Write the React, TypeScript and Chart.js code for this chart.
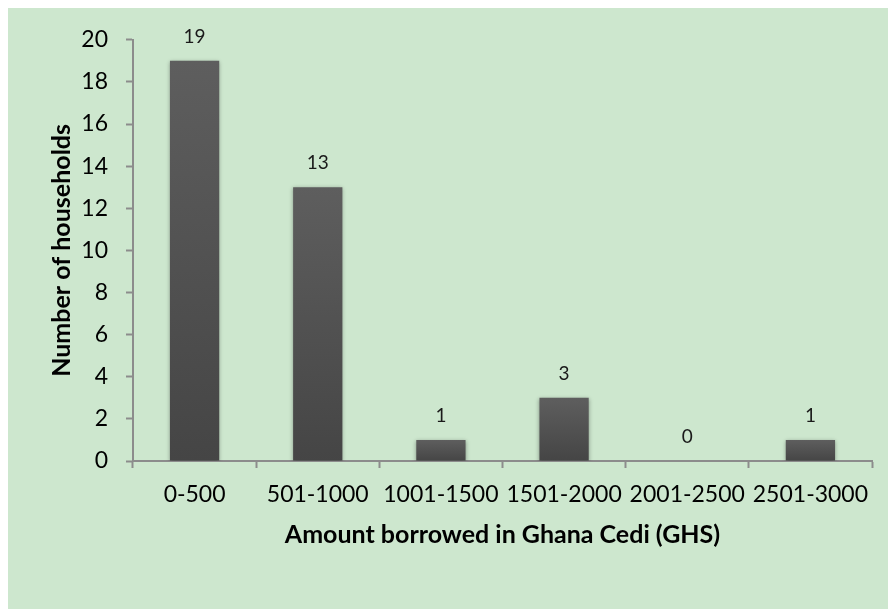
import React, { useEffect, useRef } from "react";
import { Chart, registerables } from "chart.js";

Chart.register(...registerables);

const categories = ["0-500", "501-1000", "1001-1500", "1501-2000", "2001-2500", "2501-3000"];
const households = [19, 13, 1, 3, 0, 1];
const yTicks = [0, 2, 4, 6, 8, 10, 12, 14, 16, 18, 20];
const xTitle = "Amount borrowed in Ghana Cedi (GHS)";
const yTitle = "Number of households";

const FONT = "Lato, 'Open Sans', sans-serif";
const AXIS = "#8c8c8c";

const valueLabels = {
  id: "valueLabels",
  beforeDatasetsDraw(chart: any) {
    const ctx = chart.ctx;
    ctx.save();
    ctx.shadowColor = "rgba(0,0,0,0.35)";
    ctx.shadowBlur = 4;
    ctx.shadowOffsetY = 1;
  },
  afterDatasetsDraw(chart: any) {
    const ctx = chart.ctx;
    ctx.restore();
    const meta = chart.getDatasetMeta(0);
    ctx.save();
    ctx.font = `19px ${FONT}`;
    ctx.fillStyle = "#1a1a1a";
    ctx.textAlign = "center";
    ctx.textBaseline = "middle";
    meta.data.forEach((bar: any, i: number) => {
      ctx.fillText(String(households[i]), bar.x, bar.y - 24);
    });
    ctx.restore();
  },
};

export default function App() {
  const ref = useRef<HTMLCanvasElement>(null);

  useEffect(() => {
    if (!ref.current) return;
    const chart = new Chart(ref.current, {
      type: "bar",
      data: {
        labels: categories,
        datasets: [
          {
            data: households,
            backgroundColor: (c: any) => {
              const ch = c.chart;
              const ys = ch.scales && ch.scales.y;
              if (!ys || c.raw === undefined) return "#555555";
              const top = ys.getPixelForValue(c.raw);
              const bottom = ys.getPixelForValue(0);
              if (!isFinite(top) || !isFinite(bottom) || bottom - top < 1) return "#555555";
              const g = ch.ctx.createLinearGradient(0, top, 0, bottom);
              g.addColorStop(0, "#5e5e5e");
              g.addColorStop(1, "#454545");
              return g;
            },
            borderWidth: 0,
            barPercentage: 0.4,
            categoryPercentage: 1,
          },
        ],
      },
      options: {
        responsive: false,
        animation: false,
        layout: { padding: { top: 30, right: 16, left: 0, bottom: 0 } },
        plugins: {
          legend: { display: false },
          tooltip: { enabled: false },
        },
        scales: {
          x: {
            afterFit: (s: any) => {
              s.height = 148;
            },
            grid: {
              display: true,
              drawOnChartArea: false,
              drawTicks: true,
              tickLength: 7,
              tickWidth: 2,
              color: AXIS,
              offset: true,
            },
            border: { display: true, color: AXIS, width: 2 },
            ticks: {
              color: "#000",
              padding: 13,
              maxRotation: 0,
              autoSkip: false,
              font: { family: FONT, size: 23 },
            },
            title: {
              display: true,
              text: xTitle,
              color: "#000",
              font: { family: FONT, size: 25, weight: "bold" },
              padding: { top: 0, bottom: 59 },
            },
          },
          y: {
            min: 0,
            max: 20,
            afterFit: (s: any) => {
              s.width = 125;
            },
            afterBuildTicks: (s: any) => {
              s.ticks = yTicks.map((v) => ({ value: v }));
            },
            grid: {
              display: true,
              drawOnChartArea: false,
              drawTicks: true,
              tickLength: 7,
              tickWidth: 2,
              color: AXIS,
            },
            border: { display: true, color: AXIS, width: 2 },
            ticks: {
              color: "#000",
              padding: 18,
              font: { family: FONT, size: 23 },
            },
            title: {
              display: true,
              text: yTitle,
              color: "#000",
              font: { family: FONT, size: 25, weight: "bold" },
              padding: { top: 39, bottom: 0 },
            },
          },
        },
      },
      plugins: [valueLabels],
    });
    return () => chart.destroy();
  }, []);

  return (
    <div
      style={{
        position: "fixed",
        left: 8,
        top: 8,
        width: 880,
        height: 601,
        background: "rgb(205,231,206)",
      }}
    >
      <canvas ref={ref} width={880} height={601} style={{ display: "block" }} />
    </div>
  );
}
